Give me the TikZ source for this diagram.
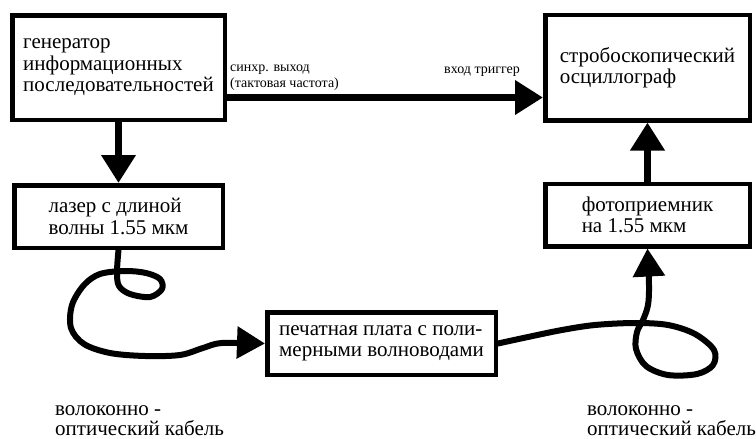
\documentclass[tikz,border=0pt]{standalone}
\usepackage{fontspec}
\setmainfont{Liberation Serif}
\usepackage{tikz}
\usetikzlibrary{arrows.meta,positioning}
\tikzset{
  box/.style={draw, line width=4.5pt, align=left, inner sep=0pt,
              font=\fontsize{21}{21.5}\selectfont},
  flow/.style={-{Triangle[length=28pt, width=33pt]}, line width=7pt},
  fibre/.style={-{Triangle[length=28pt, width=31pt]}, line width=6pt,
                line join=round, line cap=round},
  lbl/.style={font=\fontsize{14}{16}\selectfont, align=left, inner sep=0pt},
  cable/.style={font=\fontsize{21}{20}\selectfont, align=left, inner sep=0pt},
}

\begin{document}
\begin{tikzpicture}[x=1pt, y=-1pt]
  \useasboundingbox (0,0) rectangle (756,439);

  % blocks
  \node[box, minimum width=212.5pt, minimum height=104.5pt] (gen) at (118.5,67.5)
    {генератор\\информационных\\последовательностей};
  \node[box, minimum width=204.5pt, minimum height=105.5pt, right=316pt of gen] (osc)
    {стробоскопический\\осциллограф};
  \node[box, minimum width=208.5pt, minimum height=62.5pt, below=61pt of gen] (laser)
    {лазер с длиной\\волны 1.55 мкм};
  \node[box, minimum width=204.5pt, minimum height=62.5pt, below=59pt of osc] (photo)
    {фотоприемник\\на 1.55 мкм};
  \node[box, minimum width=228.5pt, minimum height=62.5pt] (board) at (381.5,343.5)
    {печатная плата с поли-\\мерными волноводами};

  % electrical links
  \draw[flow] ([yshift=-30pt]gen.east) -- ([yshift=-30pt]osc.west);
  \draw[flow] (gen.south) -- (gen.south |- laser.north);
  \draw[flow] (photo.north) -- (osc.south);
  \node[lbl, anchor=base west] (sync) at (230,87) {синхр. выход\\(тактовая частота)};
  \node[lbl, anchor=base] (trig) at (482,73) {вход триггер};

  % fibre from the laser to the board
  \draw[fibre] plot[smooth, tension=0.55] coordinates {
    (laser.south) (117,272) (119,286) (130,294) (150,297) (162,289) (160,279)
    (146,273) (125,271) (100,274) (84,285) (72,305) (71,328) (84,344)
    (110,353) (145,356) (180,355) (203,348) (222,343) (board.west)};
  % fibre from the board to the photodetector
  \draw[fibre] plot[smooth, tension=0.55] coordinates {
    (board.east) (528,337) (562,330) (595,325) (635,323) (668,325) (695,334)
    (714,350) (713,365) (697,374) (668,375) (646,366) (636,349) (637,332)
    (643,320) (648,305) (649,285) (photo.south)};

  \node[cable, anchor=base west] (fib1) at (55,435) {волоконно -\\оптический кабель};
  \node[cable, anchor=base west] (fib2) at (587,435) {волоконно -\\оптический кабель};
\end{tikzpicture}
\end{document}
